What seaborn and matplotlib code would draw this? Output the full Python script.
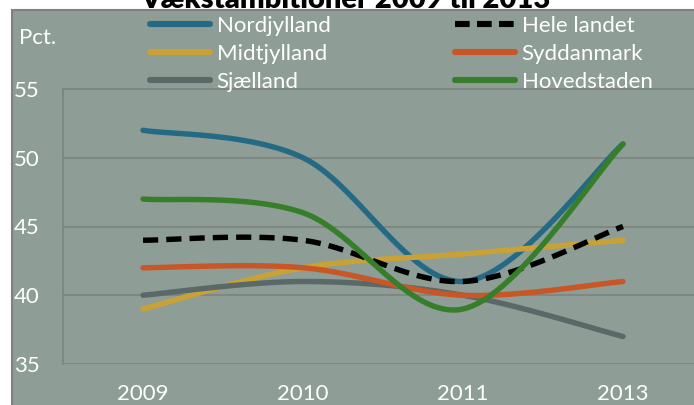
import numpy as np
import pandas as pd
import seaborn as sns
import matplotlib.pyplot as plt
from matplotlib.patches import Rectangle
from matplotlib.lines import Line2D

# data
years = ["2009", "2010", "2011", "2013"]
nordjylland = [52, 50, 41, 51]
midtjylland = [39, 42, 43, 44]
sjaelland = [40, 41, 40, 37]
hele_landet = [44, 44, 41, 45]
syddanmark = [42, 42, 40, 41]
hovedstaden = [47, 46, 39, 51]

series = {
    "Nordjylland": nordjylland,
    "Midtjylland": midtjylland,
    "Sjælland": sjaelland,
    "Hele landet": hele_landet,
    "Syddanmark": syddanmark,
    "Hovedstaden": hovedstaden,
}
colors = {
    "Nordjylland": "#256a84",
    "Midtjylland": "#c9a237",
    "Sjælland": "#5a6867",
    "Hele landet": "#000000",
    "Syddanmark": "#c95626",
    "Hovedstaden": "#377e2a",
}

BG = "#8e9d95"
GRID = "#7d8580"


def smooth(values, n=40):
    """Excel-style smoothed line: cubic Bezier through the points."""
    pts = np.column_stack([np.arange(len(values)), values]).astype(float)
    out = []
    for i in range(len(pts) - 1):
        p0 = pts[max(i - 1, 0)]
        p1 = pts[i]
        p2 = pts[i + 1]
        p3 = pts[min(i + 2, len(pts) - 1)]
        c1 = p1 + (p2 - p0) / 6
        c2 = p2 - (p3 - p1) / 6
        t = np.linspace(0, 1, n)[:, None]
        seg = (1 - t) ** 3 * p1 + 3 * (1 - t) ** 2 * t * c1 + 3 * (1 - t) * t ** 2 * c2 + t ** 3 * p2
        out.append(seg if i == 0 else seg[1:])
    return np.vstack(out)


rows = []
for name, vals in series.items():
    s = smooth(vals)
    for k, (x, y) in enumerate(s):
        rows.append({"x": x, "y": y, "region": name, "k": k})
df = pd.DataFrame(rows)

sns.set_theme(style="white")
plt.rcParams["font.family"] = ["Lato", "DejaVu Sans"]

W, H = 694, 405
fig = plt.figure(figsize=(W / 100, H / 100), dpi=100)
fig.patch.set_facecolor("white")

# chart area background
fig.patches.append(Rectangle((12 / W, -0.01), 1.0, (H - 9.5) / H + 0.01, transform=fig.transFigure,
                             facecolor=BG, edgecolor="#808080", linewidth=1.5, zorder=-5))

ax = fig.add_axes([63 / W, 1 - 364 / H, 640 / W, (364 - 89) / H])
ax.set_zorder(2)
ax.patch.set_alpha(0)

dashes = {name: "" for name in series}
dashes["Hele landet"] = (2.8, 1.5)
sns.lineplot(data=df, x="x", y="y", hue="region", style="region", palette=colors,
             dashes=dashes, sort=False, estimator=None, linewidth=3.9,
             legend=False, ax=ax)
for line in ax.get_lines():
    line.set_solid_capstyle("round")

ax.set_xlim(-0.5, 3.5)
ax.set_ylim(35, 55)
ax.set_yticks([35, 40, 45, 50, 55])
ax.set_xticks(range(len(years)))
ax.set_xticklabels(years)
ax.tick_params(axis="both", length=0, labelsize=16, labelcolor="white")
ax.tick_params(axis="y", pad=17)
ax.tick_params(axis="x", pad=14.5)
ax.set_xlabel("")
ax.set_ylabel("")
ax.grid(axis="y", color=GRID, linewidth=1.3)
ax.set_axisbelow(True)
for side in ["right", "bottom"]:
    ax.spines[side].set_visible(False)
for side in ["left", "top"]:
    ax.spines[side].set_color(GRID)
    ax.spines[side].set_linewidth(1.3)

fig.text(19 / W, 1 - 38 / H, "Pct.", color="white", fontsize=16, va="center", ha="left")

fig.text(346 / W, 1 - 8 / H, "Vækstambitioner 2009 til 2013", color="black",
         fontsize=21, fontweight="heavy", ha="center", va="baseline", zorder=-6)

handles = []
for name in series:
    ls = (0, (2.4, 1.2)) if name == "Hele landet" else "-"
    handles.append(Line2D([], [], color=colors[name], linewidth=4.4, linestyle=ls,
                          solid_capstyle="round"))
leg = fig.legend(handles, list(series.keys()), ncol=2, loc="upper left",
                 bbox_to_anchor=(139 / W, 1 - 5 / H), frameon=False, fontsize=16,
                 handlelength=2.7, handletextpad=0.3, labelspacing=0.36,
                 columnspacing=5.6, borderpad=0)
for t in leg.get_texts():
    t.set_color("white")

fig.savefig("out.png", dpi=100, facecolor="white")
